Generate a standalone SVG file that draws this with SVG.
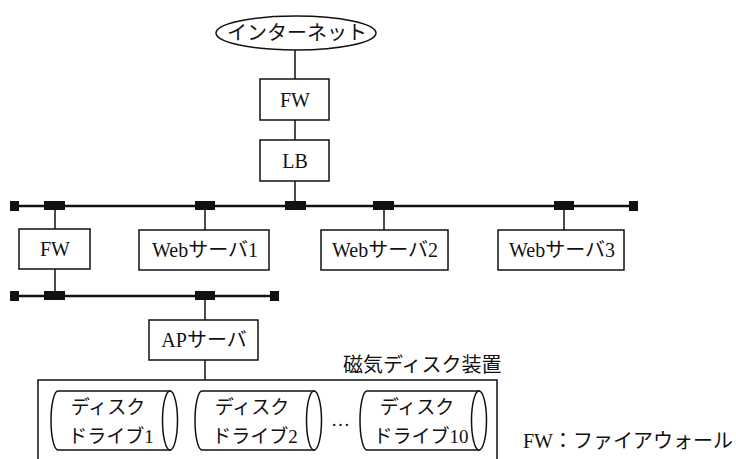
<svg xmlns="http://www.w3.org/2000/svg" width="736" height="459" viewBox="0 0 736 459">
<style>
text{font-family:"Liberation Serif","Noto Sans CJK JP",serif;font-size:20px;fill:#111;}
.box{fill:#fff;stroke:#111;stroke-width:1.5;}
.ln{stroke:#111;stroke-width:1.5;fill:none;}
.bus{stroke:#111;stroke-width:2.5;fill:none;}
.tap{fill:#111;}
.cyl{fill:#fff;stroke:#111;stroke-width:1.5;}
.m{text-anchor:middle;}
.d{font-size:19px;}
</style>
<defs>
<g id="cyl">
<path class="cyl" d="M8,0 L120,0 L120,59 L8,59 A7,29.5 0 0 1 8,0 Z"/>
<ellipse class="cyl" cx="120" cy="29.5" rx="7.5" ry="29.5"/>
</g>
</defs>
<g id="connectors">
<line class="ln" x1="295" y1="50" x2="295" y2="79"/>
<line class="ln" x1="295" y1="120" x2="295" y2="140"/>
<line class="ln" x1="295" y1="181" x2="295" y2="206"/>
<line class="bus" x1="14" y1="206" x2="634" y2="206"/>
<line class="ln" x1="55" y1="206" x2="55" y2="229"/>
<line class="ln" x1="205" y1="206" x2="205" y2="230"/>
<line class="ln" x1="384" y1="206" x2="384" y2="230"/>
<line class="ln" x1="564" y1="206" x2="564" y2="230"/>
<line class="ln" x1="55" y1="269" x2="55" y2="296"/>
<line class="bus" x1="14" y1="296" x2="275" y2="296"/>
<line class="ln" x1="205" y1="296" x2="205" y2="320"/>
<line class="ln" x1="205" y1="360" x2="205" y2="380"/>
<rect class="tap" x="10" y="201" width="9" height="10"/>
<rect class="tap" x="44" y="201" width="21" height="9"/>
<rect class="tap" x="195" y="201" width="20" height="9"/>
<rect class="tap" x="285" y="201" width="21" height="9"/>
<rect class="tap" x="373" y="201" width="21" height="9"/>
<rect class="tap" x="554" y="201" width="20" height="9"/>
<rect class="tap" x="629" y="201" width="9" height="10"/>
<rect class="tap" x="10" y="291" width="9" height="10"/>
<rect class="tap" x="44" y="291" width="21" height="9"/>
<rect class="tap" x="195" y="291" width="20" height="9"/>
<rect class="tap" x="270" y="291" width="9" height="10"/>
</g>
<g id="internet">
<ellipse class="box" cx="296" cy="33" rx="80" ry="17"/>
<text class="m" x="297" y="40" font-size="21">インターネット</text>
</g>
<g id="fw1">
<rect class="box" x="260" y="79" width="69" height="41"/>
<text class="m" x="295" y="107">FW</text>
</g>
<g id="lb">
<rect class="box" x="260" y="140" width="69" height="41"/>
<text class="m" x="295" y="168">LB</text>
</g>
<g id="fw2">
<rect class="box" x="19" y="229" width="71" height="40"/>
<text class="m" x="55" y="256">FW</text>
</g>
<g id="web1">
<rect class="box" x="139" y="230" width="130" height="40"/>
<text class="m" x="205" y="257">Webサーバ1</text>
</g>
<g id="web2">
<rect class="box" x="321" y="230" width="127" height="40"/>
<text class="m" x="385" y="257">Webサーバ2</text>
</g>
<g id="web3">
<rect class="box" x="498" y="230" width="126" height="40"/>
<text class="m" x="562" y="257">Webサーバ3</text>
</g>
<g id="ap">
<rect class="box" x="149" y="320" width="109" height="40"/>
<text class="m" x="204" y="347">APサーバ</text>
</g>
<g id="disk-device">
<text x="343" y="372" font-size="19">磁気ディスク装置</text>
<rect class="box" x="38" y="380" width="459" height="100"/>
<g id="drive1">
<use href="#cyl" x="50" y="391"/>
<text class="m d" x="108" y="414">ディスク</text>
<text class="m d" x="111" y="443">ドライブ1</text>
</g>
<g id="drive2">
<use href="#cyl" x="194" y="391"/>
<text class="m d" x="252" y="414">ディスク</text>
<text class="m d" x="255" y="443">ドライブ2</text>
</g>
<text class="d" x="331" y="426">…</text>
<g id="drive10">
<use href="#cyl" x="359" y="391"/>
<text class="m d" x="417" y="414">ディスク</text>
<text class="m d" x="421" y="443">ドライブ10</text>
</g>
</g>
<text x="523" y="448">FW：ファイアウォール</text>
</svg>
